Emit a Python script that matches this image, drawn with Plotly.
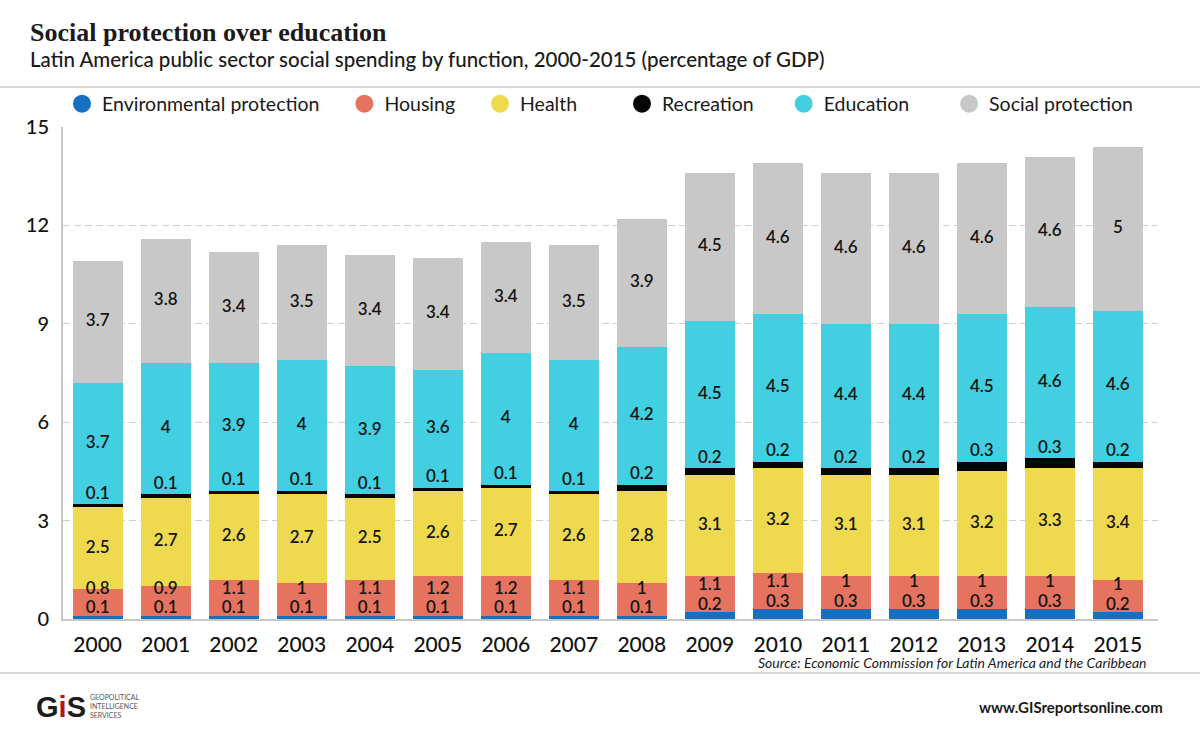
import plotly.graph_objects as go
import numpy as np

years = [str(y) for y in range(2000, 2016)]
environment = [0.1, 0.1, 0.1, 0.1, 0.1, 0.1, 0.1, 0.1, 0.1, 0.2, 0.3, 0.3, 0.3, 0.3, 0.3, 0.2]
housing = [0.8, 0.9, 1.1, 1, 1.1, 1.2, 1.2, 1.1, 1, 1.1, 1.1, 1, 1, 1, 1, 1]
health = [2.5, 2.7, 2.6, 2.7, 2.5, 2.6, 2.7, 2.6, 2.8, 3.1, 3.2, 3.1, 3.1, 3.2, 3.3, 3.4]
recreation = [0.1, 0.1, 0.1, 0.1, 0.1, 0.1, 0.1, 0.1, 0.2, 0.2, 0.2, 0.2, 0.2, 0.3, 0.3, 0.2]
education = [3.7, 4, 3.9, 4, 3.9, 3.6, 4, 4, 4.2, 4.5, 4.5, 4.4, 4.4, 4.5, 4.6, 4.6]
social = [3.7, 3.8, 3.4, 3.5, 3.4, 3.4, 3.4, 3.5, 3.9, 4.5, 4.6, 4.6, 4.6, 4.6, 4.6, 5]

names = ["Environmental protection", "Housing", "Health", "Recreation", "Education", "Social protection"]
colors = ["#1670c2", "#e5735f", "#eed94f", "#050505", "#41cfe1", "#c8c8c8"]
series = [environment, housing, health, recreation, education, social]
y_ticks = [0, 3, 6, 9, 12, 15]
legend_pad = [4, 4, 8, 5, 7, 0]

W, H = 1200, 741
L, R, T, B = 63, 42, 127, 122
PW, PH = W - L - R, H - T - B


def px(x):
    return (x - L) / PW


def py(y):
    return (H - B - y) / PH


fig = go.Figure()

# stacked bars
for name, col, vals in zip(names, colors, series):
    fig.add_trace(go.Bar(x=years, y=vals, name=name, marker=dict(color=col, line=dict(width=0)),
                         showlegend=False, hoverinfo="x+y+name"))

# label positions
arr = [np.array(s, dtype=float) for s in series]
cum = np.cumsum(np.vstack(arr), axis=0)
base = np.vstack([np.zeros(len(years)), cum[:-1]])

label_font = dict(family="Lato", size=17, color="#151515", weight=600)


def fmt(v):
    return ("%g" % v)


label_y = [
    arr[0] + 0.2,                  # environment: just above its sliver
    arr[0] + 0.8,                  # housing: stacked above env label
    base[2] + arr[2] / 2,          # health: centred
    cum[3] + 0.3,                  # recreation: just above the black band
    base[4] + arr[4] / 2,          # education: centred
    base[5] + arr[5] / 2,          # social: centred
]
for vals, ys in zip(series, label_y):
    fig.add_trace(go.Scatter(x=years, y=ys, mode="text", text=[fmt(v) for v in vals],
                             textfont=label_font, textposition="middle center",
                             showlegend=False, hoverinfo="skip", cliponaxis=False))

# legend entries (circles)
for name, col, npad in zip(names, colors, legend_pad):
    fig.add_trace(go.Scatter(x=[None], y=[None], mode="markers", name=name + "\u00a0" * npad,
                             marker=dict(color=col, size=16, symbol="circle", line=dict(color=col, width=2)),
                             showlegend=True))

fig.update_layout(
    width=W, height=H,
    margin=dict(l=L, r=R, t=T, b=B),
    paper_bgcolor="white", plot_bgcolor="white",
    barmode="stack", bargap=0.265,
    font=dict(family="Lato", color="#111"),
    legend=dict(orientation="h", x=px(62), xanchor="left", y=py(104), yanchor="middle",
                font=dict(family="Lato", size=19.5, color="#1a1a1a"), traceorder="normal",
                bgcolor="rgba(0,0,0,0)", itemsizing="trace"),
    xaxis=dict(type="category", range=[-0.51, 15.59], showgrid=False, showline=True,
               linecolor="#c6c6c6", linewidth=2, ticks="outside", ticklen=6, tickcolor="rgba(0,0,0,0)",
               tickfont=dict(family="Lato", size=21, color="#111", weight=500), fixedrange=True),
    yaxis=dict(range=[0, 15], tickvals=y_ticks, showgrid=True, gridcolor="#cfcfcf", gridwidth=1,
               griddash="7px,4px", zeroline=False, showline=True, linecolor="#c6c6c6", linewidth=2,
               ticks="outside", ticklen=8, tickcolor="rgba(0,0,0,0)",
               tickfont=dict(family="Lato", size=20, color="#111", weight=500), fixedrange=True),
    shapes=[
        dict(type="line", xref="paper", yref="paper", x0=px(0), x1=px(W), y0=py(87), y1=py(87),
             line=dict(color="#d9d9d9", width=2)),
        dict(type="line", xref="paper", yref="paper", x0=px(0), x1=px(W), y0=py(673), y1=py(673),
             line=dict(color="#d9d9d9", width=2)),
    ],
    annotations=[
        dict(xref="paper", yref="paper", x=px(28), y=py(33), xanchor="left", yanchor="middle",
             text="<b>Social protection over education</b>", showarrow=False,
             font=dict(family="Liberation Serif", size=26, color="#1a1a1a")),
        dict(xref="paper", yref="paper", x=px(28), y=py(59), xanchor="left", yanchor="middle",
             text="Latin America public sector social spending by function, 2000-2015 (percentage of GDP)",
             showarrow=False, font=dict(family="Lato", size=20.5, color="#1a1a1a", weight=500)),
        dict(xref="paper", yref="paper", x=px(1148), y=py(662), xanchor="right", yanchor="middle",
             text="<i>Source: Economic Commission for Latin America and the Caribbean</i>",
             showarrow=False, font=dict(family="Lato", size=14, color="#1a1a1a")),
        dict(xref="paper", yref="paper", x=px(1165), y=py(707), xanchor="right", yanchor="middle",
             text="<b>www.GISreportsonline.com</b>", showarrow=False,
             font=dict(family="Lato", size=15, color="#1a1a1a")),
        dict(xref="paper", yref="paper", x=px(34), y=py(707), xanchor="left", yanchor="middle",
             text="<b>G<span style='color:#b3141b'>i</span>S</b>", showarrow=False,
             font=dict(family="Liberation Sans", size=29, color="#1c1c1c")),
        dict(xref="paper", yref="paper", x=px(88), y=py(706), xanchor="left", yanchor="middle",
             text="GEOPOLITICAL<br>INTELLIGENCE<br>SERVICES", showarrow=False, align="left",
             font=dict(family="Lato", size=7, color="#555")),
    ],
)

fig.write_html("out.html", config={"displayModeBar": False},
               post_script="document.body.style.margin='0px';")
